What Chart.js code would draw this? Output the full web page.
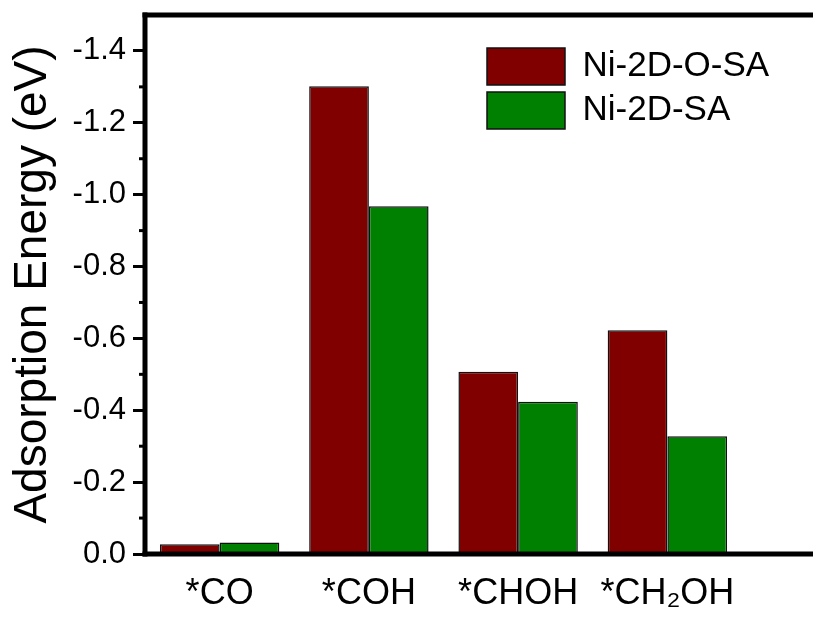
<!DOCTYPE html>
<html>
<head>
<meta charset="utf-8">
<script src="https://cdn.jsdelivr.net/npm/chart.js@4"></script>
<style>
  html, body { margin: 0; padding: 0; background: #fff; }
  canvas { display: block; }
</style>
</head>
<body>
<canvas id="energyChart" width="813" height="619"></canvas>
<script>
// ---------------- DATA ----------------
const species = ["*CO", "*COH", "*CHOH", "*CH₂OH"];
const seriesNames = ["Ni-2D-O-SA", "Ni-2D-SA"];
const oxygenSA = [-0.027, -1.302, -0.507, -0.623];
const plainSA = [-0.032, -0.968, -0.424, -0.328];
const majorTicks = [0, -0.2, -0.4, -0.6, -0.8, -1.0, -1.2, -1.4];
const minorTicks = [-0.1, -0.3, -0.5, -0.7, -0.9, -1.1, -1.3];

// ---------------- AXIS FRAME + MINOR TICKS ----------------
const framePlugin = {
  id: "frame",
  afterLayout(chart) {
    // move the legend into the upper right of the plot
    if (chart.legend) {
      chart.legend.left = 480;
      chart.legend.top = 41;
      chart.legend.right = chart.width;
    }
  },
  afterDatasetsDraw(chart) {
    const ctx = chart.ctx;
    const area = chart.chartArea;
    const y = chart.scales.y;
    ctx.save();
    ctx.strokeStyle = "#000";
    ctx.lineCap = "butt";

    // minor ticks
    ctx.lineWidth = 3;
    minorTicks.forEach(v => {
      const py = y.getPixelForValue(v);
      ctx.beginPath();
      ctx.moveTo(area.left - 6, py);
      ctx.lineTo(area.left, py);
      ctx.stroke();
    });

    ctx.lineWidth = 5;
    // top line
    ctx.beginPath();
    ctx.moveTo(area.left - 2.5, area.top);
    ctx.lineTo(chart.width, area.top);
    ctx.stroke();
    // bottom axis
    ctx.beginPath();
    ctx.moveTo(area.left - 2.5, area.bottom);
    ctx.lineTo(chart.width, area.bottom);
    ctx.stroke();
    // left axis
    ctx.beginPath();
    ctx.moveTo(area.left, area.top - 2.5);
    ctx.lineTo(area.left, area.bottom + 2.5);
    ctx.stroke();
    ctx.restore();
  }
};

// ---------------- CHART ----------------
const ctx = document.getElementById("energyChart").getContext("2d");

new Chart(ctx, {
  type: "bar",
  data: {
    labels: species,
    datasets: [
      {
        label: seriesNames[0],
        data: oxygenSA,
        backgroundColor: "#800000",
        borderColor: "#111",
        borderWidth: 1.5,
        categoryPercentage: 0.8,
        barPercentage: 1.0
      },
      {
        label: seriesNames[1],
        data: plainSA,
        backgroundColor: "#008000",
        borderColor: "#111",
        borderWidth: 1.5,
        categoryPercentage: 0.8,
        barPercentage: 1.0
      }
    ]
  },
  options: {
    responsive: false,
    animation: false,
    devicePixelRatio: 1,
    layout: {
      padding: { top: 15, right: 71, left: 0, bottom: 0 }
    },
    plugins: {
      legend: {
        position: "chartArea",
        align: "start",
        labels: {
          boxWidth: 78,
          boxHeight: 37,
          padding: 7,
          color: "#000",
          font: { family: "Liberation Sans, Arial, sans-serif", size: 35 }
        }
      },
      tooltip: { enabled: false }
    },
    scales: {
      x: {
        grid: { display: false, drawTicks: false },
        border: { display: false },
        ticks: {
          color: "#000",
          padding: 18,
          maxRotation: 0,
          autoSkip: false,
          font: { family: "Liberation Sans, Arial, sans-serif", size: 36 }
        },
        afterFit(scale) {
          scale.height = 65;
          scale.paddingLeft = 0;
          scale.paddingRight = 0;
        }
      },
      y: {
        reverse: true,
        min: -1.5,
        max: 0,
        afterBuildTicks(scale) {
          scale.ticks = majorTicks.map(v => ({ value: v }));
        },
        afterFit(scale) {
          scale.width = 145;
          scale.paddingTop = 0;
          scale.paddingBottom = 0;
        },
        grid: {
          drawOnChartArea: false,
          color: "#000",
          tickLength: 12,
          tickWidth: 3
        },
        border: { display: false },
        ticks: {
          color: "#000",
          padding: 7,
          font: { family: "Liberation Sans, Arial, sans-serif", size: 31 },
          callback: v => Number(v).toFixed(1)
        },
        title: {
          display: true,
          text: "Adsorption Energy (eV)",
          color: "#000",
          padding: { top: 6, bottom: 0 },
          font: { family: "Liberation Sans, Arial, sans-serif", size: 46 }
        }
      }
    }
  },
  plugins: [framePlugin]
});
</script>
</body>
</html>
